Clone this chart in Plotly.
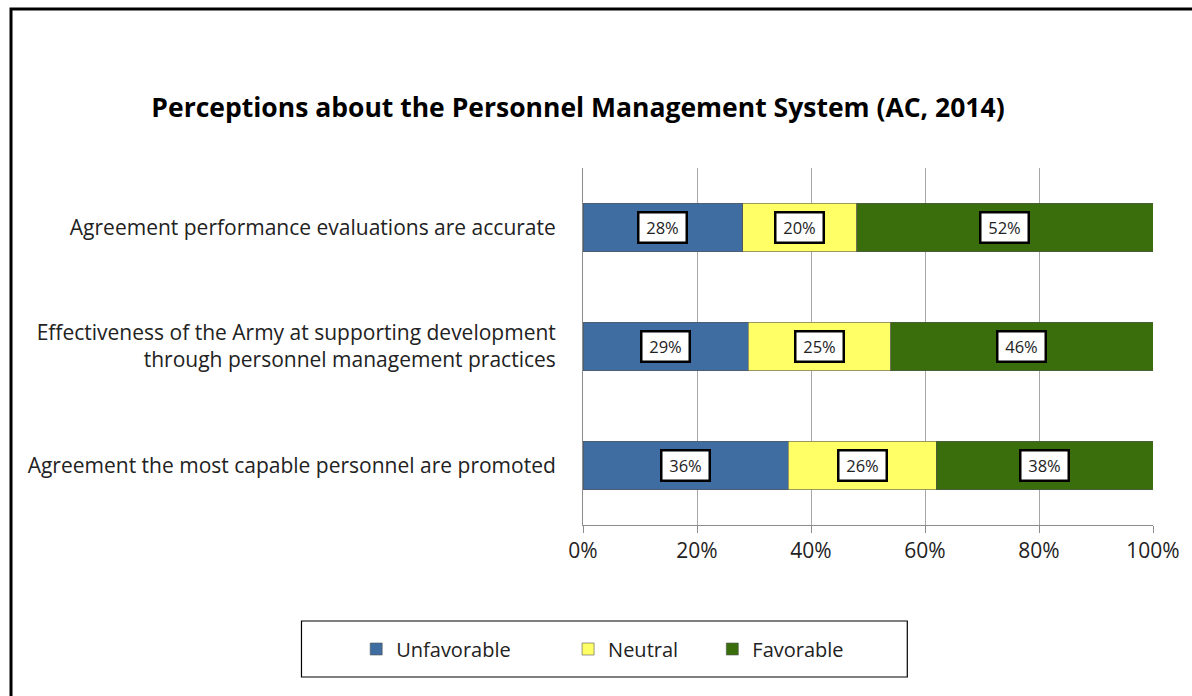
import plotly.graph_objects as go

# Survey items (top to bottom) and response shares in percent
items = [
    "Agreement performance evaluations are accurate",
    "Effectiveness of the Army at supporting development<br>through personnel management practices",
    "Agreement the most capable personnel are promoted",
]
unfavorable = [28, 29, 36]
neutral = [20, 25, 26]
favorable = [52, 46, 38]

series_names = ["Unfavorable", "Neutral", "Favorable"]
series_values = [unfavorable, neutral, favorable]
series_colors = ["#3F6CA1", "#FFFF66", "#3A6E0C"]

tick_vals = [0, 20, 40, 60, 80, 100]
tick_text = ["0%", "20%", "40%", "60%", "80%", "100%"]

FONT = "Open Sans"
PLOT_L, PLOT_R, PLOT_T, PLOT_B = 583, 1156, 168, 525


def px_x(x):
    return (x - PLOT_L) / (PLOT_R - PLOT_L)


def px_y(y):
    return (PLOT_B - y) / (PLOT_B - PLOT_T)


legend_ids = ["legend", "legend2", "legend3"]
legend_left = [355, 568, 713]

fig = go.Figure()
for name, vals, color, lg in zip(series_names, series_values, series_colors, legend_ids):
    fig.add_trace(go.Bar(
        y=items, x=vals, name=name, orientation="h", legend=lg,
        marker=dict(color=color, line=dict(color="#555555", width=0.6)),
        hoverinfo="x+name",
    ))

# Value labels in white boxes at the centre of each segment
for i, item in enumerate(items):
    start = 0
    for vals in series_values:
        v = vals[i]
        fig.add_annotation(
            x=start + v / 2, y=item, text=f"{v}%", showarrow=False,
            font=dict(family=FONT, size=16.5, color="#222222"),
            width=40, height=22,
            bgcolor="white", bordercolor="black", borderwidth=2.5, borderpad=3,
        )
        start += v

# Outer frame and legend box
fig.add_shape(type="rect", xref="paper", yref="paper",
              x0=px_x(8), x1=px_x(1200), y0=px_y(710), y1=px_y(9),
              line=dict(color="black", width=3), layer="below")
fig.add_shape(type="rect", xref="paper", yref="paper",
              x0=px_x(300), x1=px_x(909), y0=px_y(677), y1=px_y(621),
              line=dict(color="black", width=1.2), layer="below")

legend_style = dict(
    orientation="h", xanchor="left", y=px_y(649), yanchor="middle",
    font=dict(family=FONT, size=20, color="#222222"),
    bgcolor="rgba(0,0,0,0)", itemwidth=30,
)

fig.update_layout(
    width=1192, height=696,
    margin=dict(l=PLOT_L, r=1192 - PLOT_R, t=PLOT_T, b=696 - PLOT_B),
    barmode="stack", bargap=0.59,
    paper_bgcolor="white", plot_bgcolor="white",
    font=dict(family=FONT, size=18, color="#222222"),
    title=dict(
        text="<b>Perceptions about the Personnel Management System (AC, 2014)</b>",
        x=578 / 1192, xanchor="center", y=1 - 108 / 696, yanchor="middle",
        font=dict(family=FONT, size=26.5, color="black"),
    ),
    xaxis=dict(
        range=[0, 100], tickvals=tick_vals, ticktext=tick_text,
        showgrid=True, gridcolor="#A6A6A6", gridwidth=1,
        showline=True, linecolor="#8C8C8C", linewidth=1,
        ticks="outside", ticklen=7, tickcolor="#8C8C8C",
        tickfont=dict(family=FONT, size=21, color="#222222"),
        zeroline=False, fixedrange=True,
    ),
    yaxis=dict(
        categoryorder="array", categoryarray=items, autorange="reversed",
        showline=True, linecolor="#8C8C8C", linewidth=1,
        ticks="", ticklabelstandoff=22,
        tickfont=dict(family=FONT, size=21, color="#222222"),
        fixedrange=True,
    ),
    legend=dict(x=px_x(legend_left[0]), **legend_style),
    legend2=dict(x=px_x(legend_left[1]), **legend_style),
    legend3=dict(x=px_x(legend_left[2]), **legend_style),
    showlegend=True,
)

fig.write_html("out.html")
